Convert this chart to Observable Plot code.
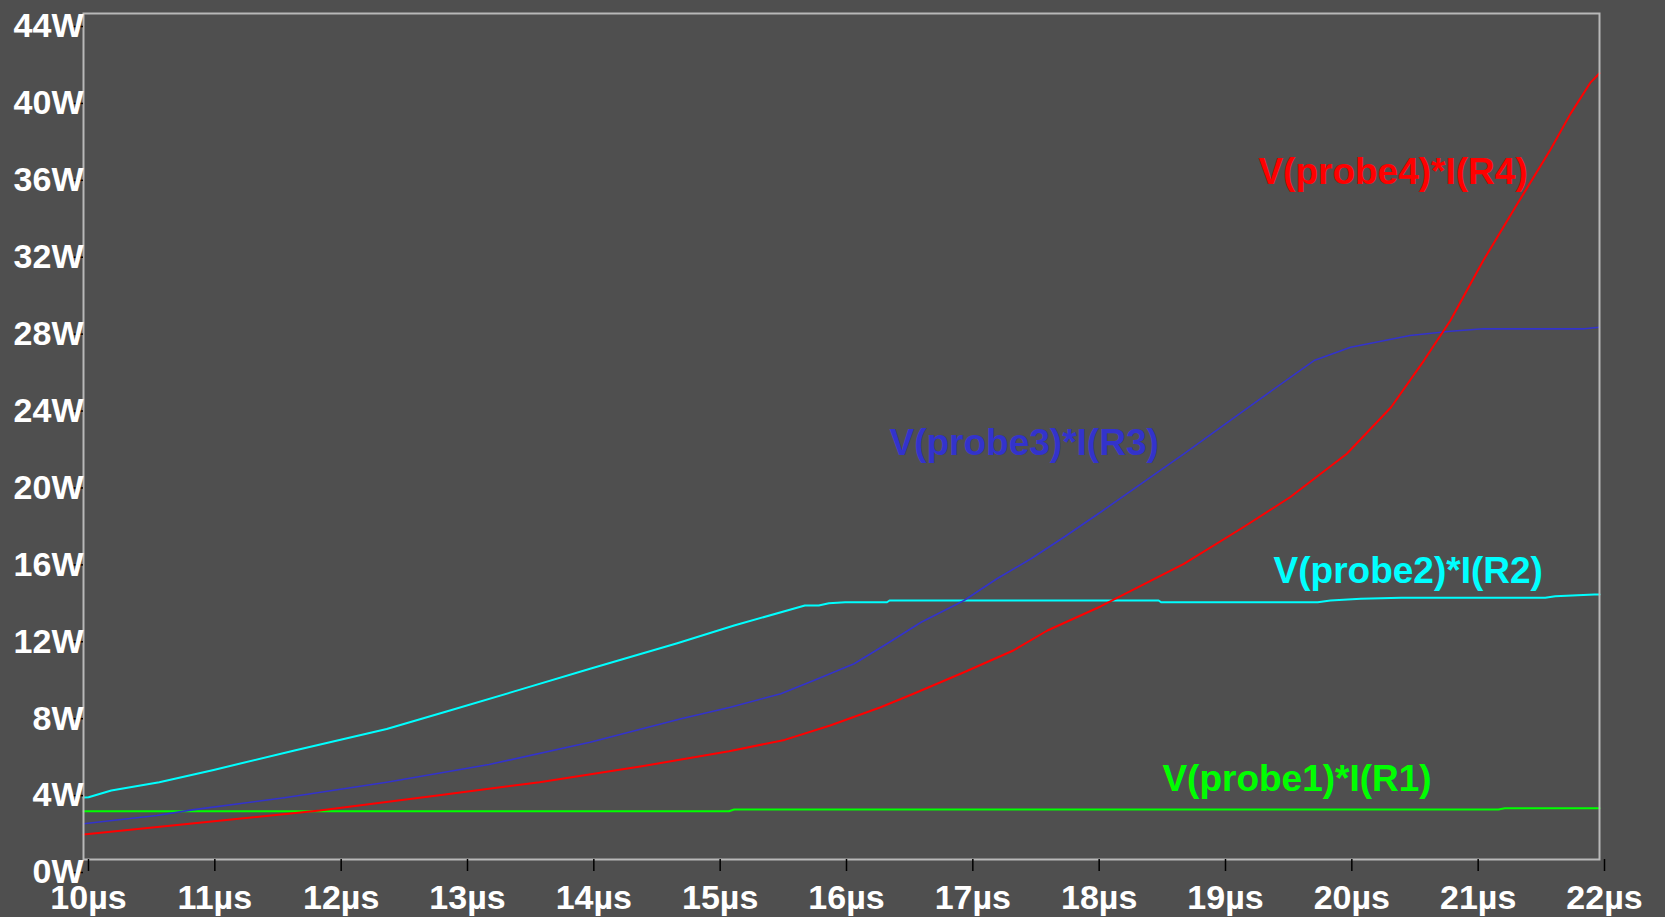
<!DOCTYPE html>
<html>
<head>
<meta charset="utf-8">
<title>Probe power</title>
<script src="https://cdn.jsdelivr.net/npm/d3@7"></script>
<script src="https://cdn.jsdelivr.net/npm/@observablehq/plot@0.6"></script>
<style>
  html, body { margin: 0; padding: 0; background: #4f4f4f; overflow: hidden; }
  #chart svg { display: block; }
</style>
</head>
<body>
<div id="chart"></div>
<script>
// Axis ticks (time in µs, power in W)
const timeTicks = [10, 11, 12, 13, 14, 15, 16, 17, 18, 19, 20, 21, 22];
const powerTicks = [0, 4, 8, 12, 16, 20, 24, 28, 32, 36, 40, 44];

// V(probe1)*I(R1)
const p1Time  = [10, 15.11, 15.15, 21.2, 21.25, 22];
const p1Power = [2.51, 2.51, 2.60, 2.60, 2.66, 2.66];

// V(probe2)*I(R2)
const p2Time  = [10, 10.04, 10.22, 10.60, 11.03, 11.67, 12.40, 12.88, 13.45, 14.01, 14.70, 15.15, 15.71, 15.82, 15.90, 16.03, 16.36, 16.38, 18.51, 18.53, 19.77, 19.87, 20.11, 20.43, 21.57, 21.65, 21.96, 22];
const p2Power = [3.22, 3.24, 3.59, 4.02, 4.66, 5.67, 6.79, 7.71, 8.82, 9.92, 11.25, 12.17, 13.21, 13.21, 13.33, 13.38, 13.38, 13.47, 13.47, 13.38, 13.38, 13.47, 13.56, 13.61, 13.61, 13.69, 13.78, 13.78];

// V(probe3)*I(R3)
const p3Time  = [10, 10.58, 10.86, 11.59, 12.40, 13.21, 14.01, 14.73, 15.12, 15.52, 15.78, 16.10, 16.36, 16.63, 16.97, 17.23, 17.50, 17.76, 18.05, 18.71, 19.24, 19.74, 20.03, 20.50, 20.82, 21.08, 21.88, 22];
const p3Power = [1.86, 2.29, 2.58, 3.21, 4.02, 4.94, 6.10, 7.32, 7.92, 8.62, 9.31, 10.18, 11.22, 12.34, 13.47, 14.60, 15.64, 16.76, 18.06, 21.10, 23.61, 25.95, 26.64, 27.25, 27.47, 27.60, 27.60, 27.68];

// V(probe4)*I(R4)
const p4Time  = [10, 10.78, 11.87, 12.80, 13.61, 14.42, 15.11, 15.55, 15.91, 16.31, 16.57, 16.97, 17.36, 17.63, 18.05, 18.71, 19.18, 19.55, 20.0, 20.35, 20.61, 20.82, 21.08, 21.35, 21.61, 21.77, 21.93, 22];
const p4Power = [1.30, 1.82, 2.55, 3.33, 4.02, 4.85, 5.63, 6.22, 6.97, 7.92, 8.62, 9.74, 10.87, 11.91, 13.16, 15.38, 17.28, 18.84, 21.10, 23.52, 25.95, 28.03, 31.15, 34.10, 36.90, 38.78, 40.42, 40.89];

const traceNames = ["V(probe1)*I(R1)", "V(probe2)*I(R2)", "V(probe3)*I(R3)", "V(probe4)*I(R4)"];

const toPoints = (ts, ws) => ts.map((t, i) => ({t, w: ws[i]}));

const traces = [
  {name: traceNames[0], points: toPoints(p1Time, p1Power), color: "#00ff00", width: 2,   label: {t: 18.54, w: 4.16}},
  {name: traceNames[1], points: toPoints(p2Time, p2Power), color: "#00ffff", width: 2,   label: {t: 19.42, w: 14.98}},
  {name: traceNames[2], points: toPoints(p3Time, p3Power), color: "#3333cc", width: 1.6, label: {t: 16.38, w: 21.67}},
  {name: traceNames[3], points: toPoints(p4Time, p4Power), color: "#ff0000", width: 2,   label: {t: 19.30, w: 35.76}}
];

const font = "'Liberation Sans', Arial, Helvetica, sans-serif";

const marks = [];
for (const tr of traces) {
  marks.push(Plot.line(tr.points, {x: "t", y: "w", stroke: tr.color, strokeWidth: tr.width, strokeLinejoin: "round"}));
}
for (const tr of traces) {
  marks.push(Plot.text([tr.label], {
    x: "t", y: "w", text: () => tr.name,
    fill: tr.color, fontSize: 37, fontWeight: "bold", fontFamily: font,
    textAnchor: "start", lineAnchor: "middle"
  }));
}
marks.push(Plot.frame({stroke: "#b8b8b8", strokeWidth: 2}));
marks.push(Plot.axisY(powerTicks, {
  tickSize: 12, tickPadding: -12, dy: 13,
  stroke: "black", strokeWidth: 1.5, fill: "white",
  fontSize: 34, fontWeight: "bold", fontFamily: font,
  tickFormat: d => d + "W", label: null
}));
marks.push(Plot.axisX(timeTicks, {
  tickSize: 12, tickPadding: 13, dx: 5,
  stroke: "black", strokeWidth: 1.5, fill: "white",
  fontSize: 34, fontWeight: "bold", fontFamily: font,
  tickFormat: d => d + "µs", label: null
}));

const chart = Plot.plot({
  width: 1665,
  height: 917,
  marginLeft: 83,
  marginRight: 66,
  marginTop: 13,
  marginBottom: 58,
  x: {domain: [10, 22]},
  y: {domain: [0, 44]},
  style: {background: "#4f4f4f", fontFamily: font, overflow: "visible"},
  marks
});

document.getElementById("chart").appendChild(chart);
</script>
</body>
</html>
